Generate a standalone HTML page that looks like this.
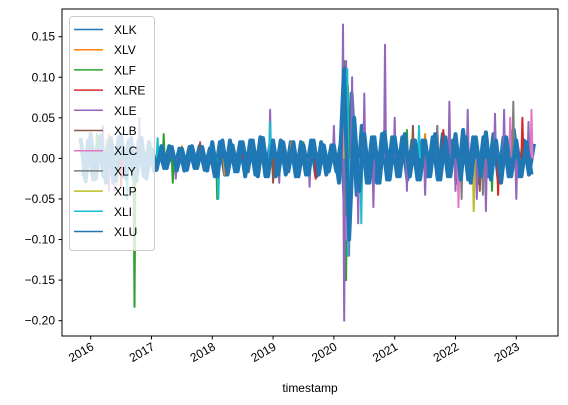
<!DOCTYPE html>
<html><head><meta charset="utf-8"><style>
html,body{margin:0;padding:0;background:#fff;width:568px;height:405px;overflow:hidden}
text{font-family:"Liberation Sans","DejaVu Sans",sans-serif}
</style></head><body>
<svg id="chart" width="568" height="405" viewBox="0 0 568 405" xmlns="http://www.w3.org/2000/svg">
<g id="plot"></g>
<rect x="62" y="9" width="496" height="327" fill="none" stroke="#000" stroke-width="1"/>
<g id="axes"></g>
<text x="310" y="392" font-size="12" text-anchor="middle">timestamp</text>
<g id="legend"></g>
</svg>
<script>
const yTicks=[0.15,0.10,0.05,0.00,-0.05,-0.10,-0.15,-0.20];
const yTickLabels=["0.15","0.10","0.05","0.00","\u22120.05","\u22120.10","\u22120.15","\u22120.20"];
const xTicks=[2016,2017,2018,2019,2020,2021,2022,2023];
const seriesNames=["XLK","XLV","XLF","XLRE","XLE","XLB","XLC","XLY","XLP","XLI","XLU"];
const seriesColors=["#1f77b4","#ff7f0e","#2ca02c","#d62728","#9467bd","#8c564b","#e377c2","#7f7f7f","#bcbd22","#17becf","#1f77b4"];
const startMonth=2015+10/12;
const xluValues=[.025,-.028,.03,-.025,.028,-.03,.025,-.028,.03,-.025,.025,-.028,.025,-.025,
.012,-.014,.015,-.012,.014,-.015,.012,-.014,.015,-.012,.014,-.015,
.02,-.022,.022,-.02,.016,-.016,.02,-.016,.022,-.022,.025,-.022,
.022,-.02,.02,-.016,.02,-.022,.016,-.02,.022,-.02,.016,-.016,
.016,-.03,.11,-.10,.05,-.04,.03,-.03,.026,-.03,.032,-.026,
.026,-.022,.03,-.022,.022,-.026,.022,-.022,.03,-.026,.026,-.022,
.03,-.026,.026,-.03,.026,-.022,.032,-.026,.022,-.03,.026,-.022,
.022,-.022,.02,-.02];
const xlkValues=[-.022,.022,-.026,.026,-.022,.022,-.03,.026,-.022,.022,-.026,.022,-.022,.02,
-.015,.012,-.012,.015,-.014,.012,-.015,.014,-.012,.015,-.014,.012,
-.022,.02,-.02,.022,-.016,.02,-.022,.022,-.02,.026,-.022,.02,
-.022,.022,-.02,.02,-.022,.02,-.02,.022,-.022,.02,-.02,.016,
-.016,.025,-.10,.08,-.045,.04,-.03,.026,-.03,.03,-.026,.026,
-.022,.026,-.026,.022,-.026,.022,-.022,.026,-.026,.03,-.022,.022,
-.03,.035,-.026,.026,-.03,.026,-.022,.03,-.026,.026,-.022,.035,
-.022,.022,-.02,.018];
const xlvDates=[2016.3,2017.5,2018.2,2019.3,2020.17,2020.2,2021.5,2022.4];
const xlvValues=[.03,.015,-.02,.02,.07,-.09,.03,-.03];
const xlfDates=[2016.1,2016.72,2017.2,2017.35,2018.08,2019.5,2020.17,2020.2,2020.23,2021.2,2022.6];
const xlfValues=[.03,-.183,.03,-.03,-.05,.02,.12,-.15,.09,.035,-.04];
const xlreDates=[2016.5,2018.5,2019.7,2020.18,2020.22,2021.8,2022.7,2023.1];
const xlreValues=[-.035,.02,-.025,-.10,.08,.035,-.045,.05];
const xleDates=[2016.2,2016.3,2016.8,2017.4,2018.95,2019.1,2019.6,2020.0,2020.15,2020.17,2020.2,2020.25,2020.3,2020.4,2020.5,2020.65,2020.84,2021.0,2021.2,2021.5,2021.7,2021.9,2022.0,2022.2,2022.35,2022.5,2022.65,2022.8,2023.0,2023.2];
const xleValues=[.04,-.04,.05,-.025,.06,-.03,-.035,.04,.165,-.2,.12,-.12,.1,-.08,.08,-.06,.14,.05,-.04,-.045,.04,.07,-.04,.06,-.05,-.065,.055,.06,-.05,.045];
const xlbDates=[2017.8,2019.0,2020.18,2020.22,2021.3,2022.4];
const xlbValues=[.02,-.03,.1,-.11,.04,-.04];
const xlcDates=[2016.4,2020.18,2020.21,2022.05,2022.9,2023.25];
const xlcValues=[-.04,.09,-.1,-.06,.05,.06];
const xlyDates=[2020.2,2021.7,2022.1,2022.45,2022.95];
const xlyValues=[-.07,.04,-.05,-.045,.07];
const xlpDates=[2020.19,2022.3];
const xlpValues=[.08,-.065];
const xliDates=[2016.6,2017.1,2018.1,2018.95,2020.22,2020.23,2020.45,2021.4];
const xliValues=[-.05,.025,-.05,.045,.11,-.12,-.08,.04];

const X0=90.7, PXY=60.8, Y0=158.4, PXV=811.4;
const xs=y=>X0+(y-2016)*PXY;
const ys=v=>Y0-v*PXV;
const NS="http://www.w3.org/2000/svg";
const plot=document.getElementById('plot');
function mk(tag,attrs,parent){const e=document.createElementNS(NS,tag);for(const k in attrs)e.setAttribute(k,attrs[k]);parent.appendChild(e);return e;}
function denseLine(vals,offset){let d='';vals.forEach((v,i)=>{const t=startMonth+(i+offset)/12;d+=(i?'L':'M')+xs(t).toFixed(1)+','+ys(v).toFixed(1);});return d;}
function spikeLine(dates,vals){let d='';dates.forEach((t,i)=>{const x=xs(t);d+='M'+(x-1).toFixed(1)+','+ys(0)+'L'+x.toFixed(1)+','+ys(vals[i]).toFixed(1)+'L'+(x+1).toFixed(1)+','+ys(0);});return d;}
const spikeSets={XLV:[xlvDates,xlvValues],XLF:[xlfDates,xlfValues],XLRE:[xlreDates,xlreValues],XLE:[xleDates,xleValues],XLB:[xlbDates,xlbValues],XLC:[xlcDates,xlcValues],XLY:[xlyDates,xlyValues],XLP:[xlpDates,xlpValues],XLI:[xliDates,xliValues]};
seriesNames.forEach((n,i)=>{
  let d;
  if(n==="XLK") d=denseLine(xlkValues,0.5);
  else if(n==="XLU") d=denseLine(xluValues,0);
  else d=spikeLine(spikeSets[n][0],spikeSets[n][1]);
  const dense=(n==="XLU"||n==="XLK");
  const p=mk('path',{d:d,fill:'none',stroke:seriesColors[i],'stroke-width':dense?4:2,'stroke-linejoin':'round'},plot);
  
  
});
const axes=document.getElementById('axes');
yTicks.forEach((v,i)=>{
  const y=ys(v);
  const t=mk('line',{x1:58.5,x2:62,y1:y,y2:y,stroke:'#000'},axes);
  
  
  const l=mk('text',{x:55,y:y+4,'font-size':'12','text-anchor':'end'},axes);
  l.textContent=yTickLabels[i];
  
  
});
xTicks.forEach(yr=>{
  const x=xs(yr);
  const t=mk('line',{x1:x,x2:x,y1:336,y2:339.5,stroke:'#000'},axes);
  
  
  const l=mk('text',{x:x+4,y:349,'font-size':'12','text-anchor':'end',transform:'rotate(-30 '+(x+4)+' 349)'},axes);
  l.textContent=String(yr);
  
  
});
const lg=document.getElementById('legend');
const box=mk('rect',{x:69.5,y:16.5,width:85,height:234,rx:3,fill:'#fff','fill-opacity':0.8,stroke:'#ccc'},lg);


seriesNames.forEach((n,i)=>{
  const y=29.5+i*20.2;
  const g=mk('g',{},lg);
  
  
  mk('line',{x1:74,x2:103,y1:y,y2:y,stroke:seriesColors[i],'stroke-width':1.5},g);
  const t=mk('text',{x:114,y:y+4.5,'font-size':'12'},g);
  t.textContent=n;
});
</script>
</body></html>
